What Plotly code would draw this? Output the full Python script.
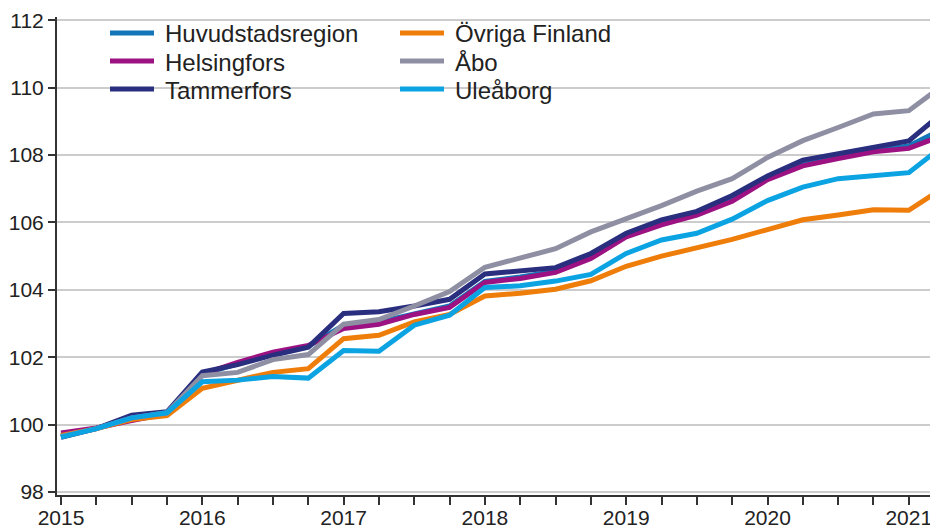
import plotly.graph_objects as go

# ---- data (quarterly index, 2015Q1 .. 2021Q2) ----
periods = ["2015Q1", "2015Q2", "2015Q3", "2015Q4",
           "2016Q1", "2016Q2", "2016Q3", "2016Q4",
           "2017Q1", "2017Q2", "2017Q3", "2017Q4",
           "2018Q1", "2018Q2", "2018Q3", "2018Q4",
           "2019Q1", "2019Q2", "2019Q3", "2019Q4",
           "2020Q1", "2020Q2", "2020Q3", "2020Q4",
           "2021Q1", "2021Q2"]

huvudstadsregion = [99.66, 99.88, 100.20, 100.34, 101.50, 101.80, 102.10, 102.32,
                    102.95, 103.05, 103.30, 103.52, 104.25, 104.38, 104.55, 104.98,
                    105.60, 105.98, 106.26, 106.68, 107.30, 107.72, 107.93, 108.13,
                    108.27, 108.80]
helsingfors = [99.75, 99.90, 100.12, 100.32, 101.50, 101.85, 102.15, 102.35,
               102.85, 102.98, 103.27, 103.48, 104.22, 104.34, 104.52, 104.93,
               105.57, 105.93, 106.22, 106.63, 107.27, 107.68, 107.90, 108.10,
               108.20, 108.60]
tammerfors = [99.62, 99.88, 100.28, 100.38, 101.56, 101.78, 102.06, 102.30,
              103.30, 103.35, 103.52, 103.72, 104.47, 104.55, 104.66, 105.08,
              105.68, 106.08, 106.33, 106.80, 107.38, 107.85, 108.03, 108.24,
              108.42, 109.30]
ovriga_finland = [99.68, 99.88, 100.15, 100.27, 101.08, 101.30, 101.55, 101.66,
                  102.55, 102.65, 103.05, 103.27, 103.82, 103.90, 104.02, 104.27,
                  104.70, 105.00, 105.25, 105.50, 105.79, 106.08, 106.22, 106.38,
                  106.36, 107.05]
abo = [99.65, 99.88, 100.20, 100.35, 101.45, 101.55, 101.93, 102.08,
       102.98, 103.12, 103.52, 103.95, 104.67, 104.93, 105.22, 105.72,
       106.10, 106.50, 106.93, 107.30, 107.93, 108.43, 108.82, 109.22,
       109.32, 110.10]
uleaborg = [99.63, 99.88, 100.20, 100.35, 101.27, 101.32, 101.43, 101.38,
            102.20, 102.18, 102.95, 103.25, 104.07, 104.12, 104.26, 104.46,
            105.08, 105.48, 105.68, 106.10, 106.65, 107.05, 107.30, 107.38,
            107.48, 108.30]

series_names = ["Huvudstadsregion", "Helsingfors", "Tammerfors",
                "Övriga Finland", "Åbo", "Uleåborg"]
series_values = [huvudstadsregion, helsingfors, tammerfors,
                 ovriga_finland, abo, uleaborg]
colors = ["#1276b8", "#9c1283", "#2a2e7e", "#ef7d0a", "#8e8fa3", "#0ba3e2"]

year_ticks = [2015, 2016, 2017, 2018, 2019, 2020, 2021]
year_labels = ["2015", "2016", "2017", "2018", "2019", "2020", "2021"]
y_ticks = [98, 100, 102, 104, 106, 108, 110, 112]


def period_to_num(p):
    return int(p[:4]) + (int(p[-1]) - 1) / 4.0


x_vals = [period_to_num(p) for p in periods]

# ---- geometry (screen pixels; page body has an 8px margin) ----
OFF = 8
SW, SH = 938, 528                     # screen size
W, H = SW - OFF, SH - OFF             # figure size
AX_LEFT, AX_BOTTOM, AX_TOP = 57, 495, 17   # screen positions of plot edges
ML = AX_LEFT - OFF
MT = AX_TOP - OFF
MB = SH - AX_BOTTOM
MR = 0
PW, PH = W - ML - MR, H - MT - MB


def pxx(px):
    return (px - AX_LEFT) / PW


def pxy(py):
    return (AX_BOTTOM - py) / PH


FONT = "Liberation Sans, Arial, sans-serif"
TXT = "#222222"

fig = go.Figure()
for name, vals, col in zip(series_names, series_values, colors):
    fig.add_trace(go.Scatter(x=x_vals, y=vals, mode="lines", name=name,
                             line=dict(color=col, width=5), showlegend=False))

# white box behind the legend (covers gridlines)
fig.add_shape(type="rect", xref="paper", yref="paper",
              x0=pxx(AX_LEFT + 1), x1=pxx(658), y0=pxy(104), y1=1.0,
              fillcolor="white", line=dict(width=0), layer="between")

# manual two-column legend
leg_cols = [(110, 154, 163), (400, 444, 453)]
leg_rows = [33, 61, 89]
for k, (name, col) in enumerate(zip(series_names, colors)):
    c = k // 3
    r = k % 3
    x0, x1, xt = leg_cols[c]
    yy = leg_rows[r]
    fig.add_shape(type="line", xref="paper", yref="paper",
                  x0=pxx(x0), x1=pxx(x1), y0=pxy(yy), y1=pxy(yy),
                  line=dict(color=col, width=5), layer="above")
    fig.add_annotation(xref="paper", yref="paper", x=pxx(xt), y=pxy(yy + 1),
                       text=name, showarrow=False, xanchor="left",
                       yanchor="middle",
                       font=dict(family=FONT, size=24, color=TXT))

x_start = 2015 - 4 / 141.3
x_end = x_start + PW / 141.3

fig.update_layout(
    template="none",
    width=W, height=H,
    margin=dict(l=ML, r=MR, t=MT, b=MB, pad=0, autoexpand=False),
    paper_bgcolor="white", plot_bgcolor="white",
    font=dict(family=FONT, size=21, color=TXT),
    showlegend=False,
    xaxis=dict(range=[x_start, x_end], tickvals=year_ticks, ticktext=year_labels,
               automargin=False,
               showgrid=False, zeroline=False,
               showline=True, linecolor="#333333", linewidth=2,
               ticks="outside", ticklen=8, tickwidth=2, tickcolor="#333333",
               ticklabelstandoff=-5,
               minor=dict(dtick=0.25, tick0=2015, ticks="outside", ticklen=8,
                          tickwidth=2, tickcolor="#333333", showgrid=False),
               tickfont=dict(family=FONT, size=21, color=TXT)),
    yaxis=dict(range=[97.91, 112.1], tickvals=y_ticks,
               automargin=False,
               showgrid=True, gridcolor="#cccccc", gridwidth=2,
               zeroline=False,
               showline=True, linecolor="#333333", linewidth=2,
               ticks="outside", ticklen=7, tickwidth=2, tickcolor="#333333",
               tickfont=dict(family=FONT, size=21, color=TXT)),
)

fig.write_html("out.html", config={"displayModeBar": False})
